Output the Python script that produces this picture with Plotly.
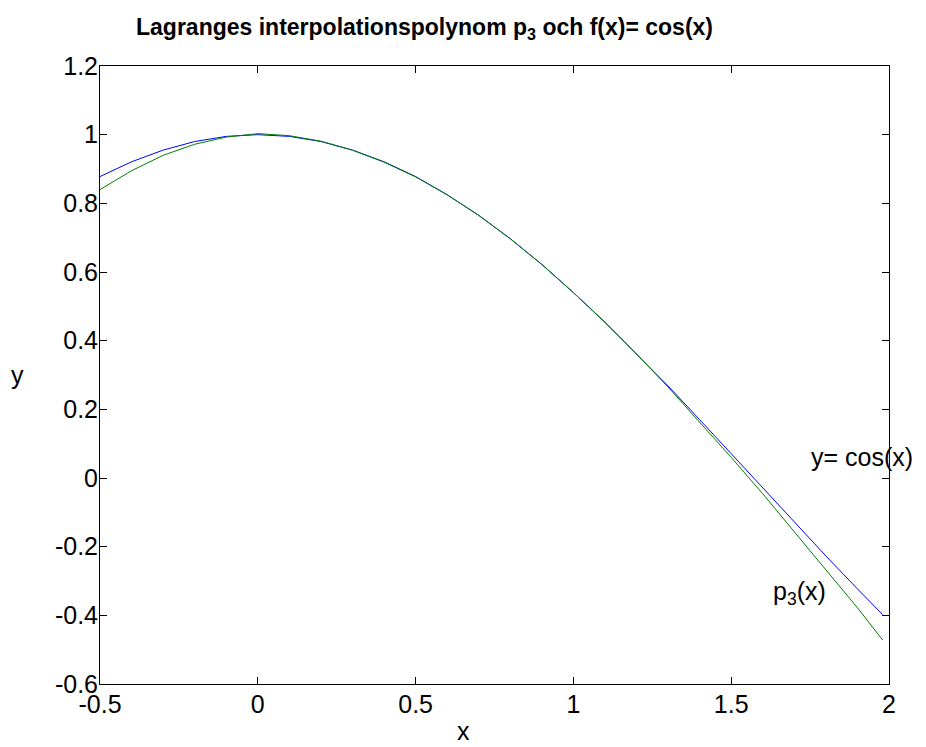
import plotly.graph_objects as go

x_vals = [-0.5, -0.4, -0.3, -0.2, -0.1, 0.0, 0.1, 0.2, 0.3, 0.4, 0.5, 0.6, 0.7,
          0.8, 0.9, 1.0, 1.1, 1.2, 1.3, 1.4, 1.5, 1.6, 1.7, 1.8, 1.9, 1.98]
cos_vals = [0.878, 0.921, 0.955, 0.980, 0.995, 1.000, 0.995, 0.980, 0.955, 0.921,
            0.878, 0.825, 0.765, 0.697, 0.622, 0.540, 0.454, 0.362, 0.268, 0.170,
            0.071, -0.029, -0.129, -0.227, -0.323, -0.398]
p3_vals = [0.840, 0.895, 0.940, 0.972, 0.993, 1.003, 0.997, 0.981, 0.955, 0.920,
           0.877, 0.825, 0.765, 0.697, 0.622, 0.540, 0.453, 0.361, 0.265, 0.164,
           0.060, -0.046, -0.156, -0.267, -0.378, -0.472]

x_ticks = [-0.5, 0, 0.5, 1, 1.5, 2]
x_tick_text = ["-0.5", "0", "0.5", "1", "1.5", "2"]
y_ticks = [-0.6, -0.4, -0.2, 0, 0.2, 0.4, 0.6, 0.8, 1, 1.2]
y_tick_text = ["-0.6", "-0.4", "-0.2", "0", "0.2", "0.4", "0.6", "0.8", "1", "1.2"]

FONT = "Liberation Sans, Arial, sans-serif"
SIZE = 25

fig = go.Figure()
fig.add_trace(go.Scatter(x=x_vals, y=cos_vals, mode="lines",
                         line=dict(color="#0000ff", width=1), showlegend=False))
fig.add_trace(go.Scatter(x=x_vals, y=p3_vals, mode="lines",
                         line=dict(color="#008000", width=1), showlegend=False))

axis_common = dict(showline=True, linecolor="black", linewidth=1, mirror="ticks",
                   ticks="inside", ticklen=7, tickcolor="black", showgrid=False,
                   zeroline=False, tickfont=dict(family=FONT, size=SIZE, color="black"))

fig.update_xaxes(range=[-0.5, 2], tickvals=x_ticks, ticktext=x_tick_text,
                 ticklabelstandoff=-2, **axis_common)
fig.update_yaxes(range=[-0.6, 1.2], tickvals=y_ticks, ticktext=y_tick_text,
                 ticklabelstandoff=-4, **axis_common)

fig.add_annotation(x=1.746, y=0.06, xref="x", yref="y", text="y= cos(x)",
                   showarrow=False, xanchor="left", yanchor="middle",
                   font=dict(family=FONT, size=SIZE, color="black"))
fig.add_annotation(x=1.626, y=-0.335, xref="x", yref="y", text="p<sub>3</sub>(x)",
                   showarrow=False, xanchor="left", yanchor="middle",
                   font=dict(family=FONT, size=SIZE, color="black"))

fig.add_annotation(x=0.411, y=1.061, xref="paper", yref="paper",
                   text="<b>Lagranges interpolationspolynom p<sub>3</sub> och f(x)= cos(x)</b>",
                   showarrow=False, xanchor="center", yanchor="middle",
                   font=dict(family=FONT, size=23, color="black"))
fig.add_annotation(x=(463 - 100) / 789, y=(684 - 731) / 618, xref="paper", yref="paper", text="x",
                   showarrow=False, xanchor="center", yanchor="middle",
                   font=dict(family=FONT, size=SIZE, color="black"))
fig.add_annotation(x=(17 - 100) / 789, y=(684 - 375) / 618, xref="paper", yref="paper", text="y",
                   showarrow=False, xanchor="center", yanchor="middle",
                   font=dict(family=FONT, size=SIZE, color="black"))

fig.update_layout(width=926, height=747, margin=dict(l=100, r=37, t=66, b=63),
                  paper_bgcolor="white", plot_bgcolor="white",
                  font=dict(family=FONT, color="black"))

fig.write_html("out.html")
